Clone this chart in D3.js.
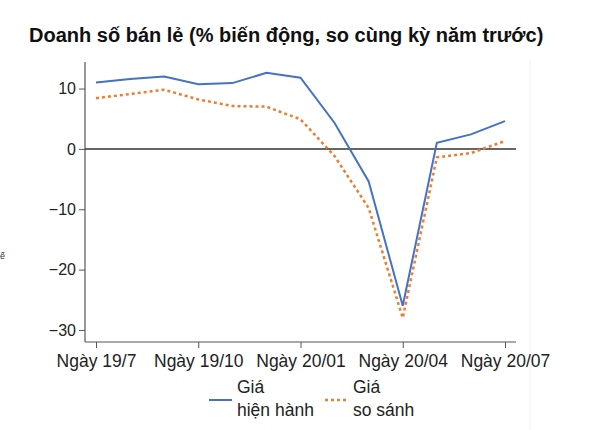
<!DOCTYPE html>
<html>
<head>
<meta charset="utf-8">
<script src="https://cdn.jsdelivr.net/npm/d3@7"></script>
<style>
  body { margin: 0; background: #fff; }
  text { font-family: "Liberation Sans", Arial, sans-serif; }
</style>
</head>
<body>
<svg id="chart" width="611" height="430"></svg>
<script>
const months = ["2019-07", "2019-08", "2019-09", "2019-10", "2019-11", "2019-12",
  "2020-01", "2020-02", "2020-03", "2020-04", "2020-05", "2020-06", "2020-07"];
const currentPrice = [11.0, 11.6, 12.0, 10.7, 10.9, 12.6, 11.8, 4.3, -5.4, -26.0, 1.0, 2.4, 4.6];
const constantPrice = [8.4, 9.1, 9.8, 8.2, 7.1, 7.0, 4.9, -1.2, -9.8, -28.0, -1.4, -0.7, 1.3];
const tickIndex = [0, 3, 6, 9, 12];
const tickLabels = ["Ngày 19/7", "Ngày 19/10", "Ngày 20/01", "Ngày 20/04", "Ngày 20/07"];
const yTicks = [10, 0, -10, -20, -30];
const seriesNames = [["Giá", "hiện hành"], ["Giá", "so sánh"]];

const svg = d3.select("#chart");
const plot = { left: 85, right: 516, top: 62, bottom: 342 };

const x = d3.scaleLinear().domain([0, 12]).range([96, 505]);
const y = d3.scaleLinear().domain([-32, 14.4]).range([plot.bottom, plot.top]);

// title
svg.append("text")
  .attr("x", 29).attr("y", 42)
  .attr("font-size", 20).attr("font-weight", "bold")
  .attr("fill", "#111")
  .text("Doanh số bán lẻ (% biến động, so cùng kỳ năm trước)");

// stray glyph at the left edge
svg.append("text")
  .attr("x", 0).attr("y", 259)
  .attr("font-size", 9).attr("fill", "#333")
  .text("ế");

// faint divider on the right
svg.append("line")
  .attr("x1", 530).attr("x2", 530).attr("y1", 60).attr("y2", 430)
  .attr("stroke", "#f2f2f2");

// y axis
const yAxis = svg.append("g")
  .attr("transform", `translate(${plot.left},0)`)
  .call(d3.axisLeft(y).tickValues(yTicks).tickSize(6).tickPadding(3));
yAxis.select(".domain").remove();
yAxis.append("line")
  .attr("y1", plot.top).attr("y2", plot.bottom)
  .attr("stroke", "#555").attr("stroke-width", 1.2);
yAxis.selectAll(".tick line").attr("stroke", "#555");
yAxis.selectAll(".tick text")
  .attr("font-size", 16).attr("fill", "#222")
  .attr("font-family", "Liberation Sans, Arial, sans-serif");

// x axis
const xAxis = svg.append("g")
  .attr("transform", `translate(0,${plot.bottom})`)
  .call(d3.axisBottom(x).tickValues(tickIndex)
    .tickFormat((d, i) => tickLabels[i]).tickSize(6).tickPadding(7));
xAxis.select(".domain").remove();
xAxis.append("line")
  .attr("x1", plot.left).attr("x2", plot.right)
  .attr("stroke", "#555").attr("stroke-width", 1.2);
xAxis.selectAll(".tick line").attr("stroke", "#555");
xAxis.selectAll(".tick text")
  .attr("font-size", 17.5).attr("fill", "#222")
  .attr("font-family", "Liberation Sans, Arial, sans-serif");

// zero line
svg.append("line")
  .attr("x1", plot.left).attr("x2", plot.right)
  .attr("y1", y(0)).attr("y2", y(0))
  .attr("stroke", "#333").attr("stroke-width", 1.5);

const line = d3.line().x((d, i) => x(i)).y(d => y(d));

svg.append("path")
  .datum(constantPrice)
  .attr("d", line)
  .attr("fill", "none")
  .attr("stroke", "#ED7D31")
  .attr("stroke-width", 2.5)
  .attr("stroke-dasharray", "3,3");

svg.append("path")
  .datum(currentPrice)
  .attr("d", line)
  .attr("fill", "none")
  .attr("stroke", "#4472C4")
  .attr("stroke-width", 2);

// legend
const legend = svg.append("g");
const legendItems = [
  { x: 209, color: "#4472C4", dash: null, width: 2, name: seriesNames[0] },
  { x: 325, color: "#ED7D31", dash: "3,3", width: 2.5, name: seriesNames[1] }
];
legendItems.forEach(item => {
  legend.append("line")
    .attr("x1", item.x).attr("x2", item.x + 23)
    .attr("y1", 400).attr("y2", 400)
    .attr("stroke", item.color)
    .attr("stroke-width", item.width)
    .attr("stroke-dasharray", item.dash);
  legend.append("text")
    .attr("x", item.x + 28).attr("y", 393)
    .attr("font-size", 17.5).attr("fill", "#222")
    .text(item.name[0]);
  legend.append("text")
    .attr("x", item.x + 28).attr("y", 416)
    .attr("font-size", 17.5).attr("fill", "#222")
    .text(item.name[1]);
});
</script>
</body>
</html>
